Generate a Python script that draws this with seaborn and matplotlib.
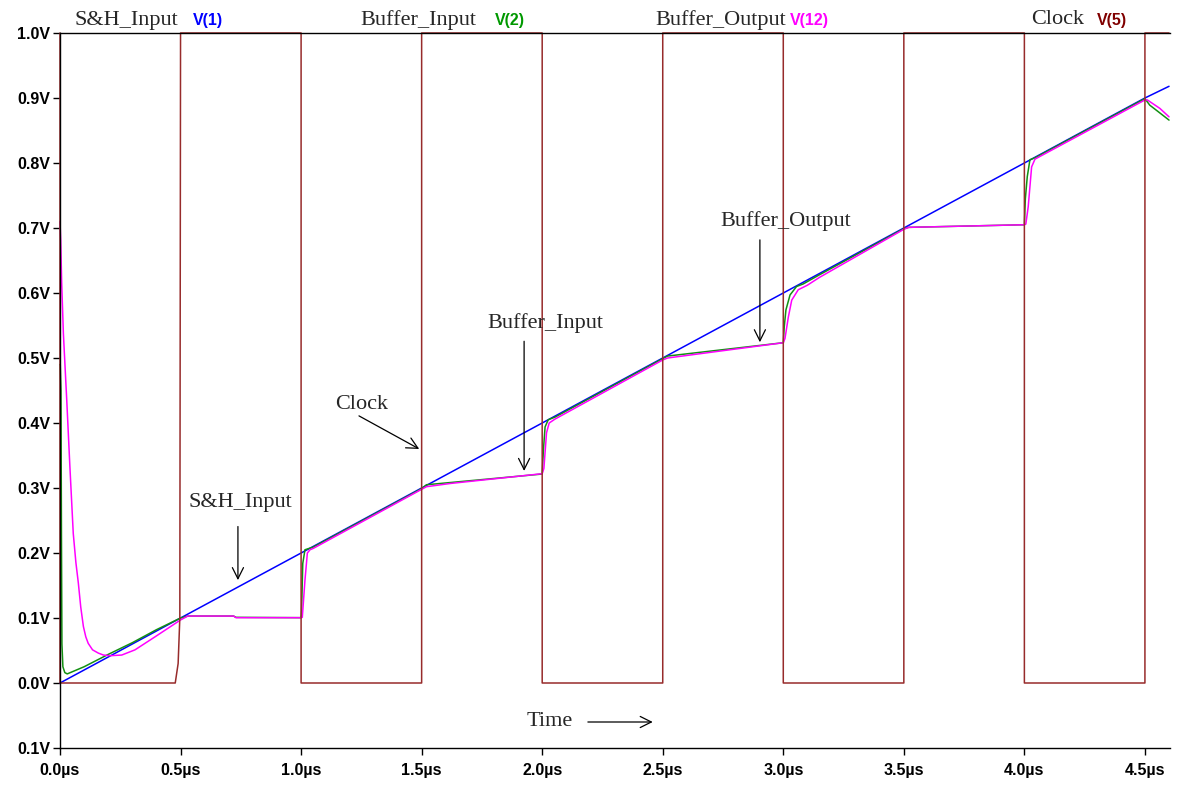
import pandas as pd
import seaborn as sns
import matplotlib.pyplot as plt

# ---- traces (time in us, volts) ----
sh_t = [0.0, 0.5, 1.0, 1.5, 2.0, 2.5, 3.0, 3.5, 4.0, 4.5, 4.6]
sh_v = [0.0, 0.1, 0.2, 0.3, 0.4, 0.5, 0.6, 0.7, 0.8, 0.9, 0.918]

buf_in_t = [0.0, 0.001, 0.004, 0.006, 0.008, 0.012, 0.02, 0.03, 0.1, 0.2, 0.3, 0.4, 0.5,
            0.53, 0.72, 0.73, 1.0, 1.002, 1.007, 1.016, 1.05, 1.5,
            1.52, 2.0, 2.005, 2.012, 2.025, 2.053, 2.5,
            2.52, 3.0, 3.004, 3.011, 3.028, 3.055, 3.083, 3.15, 3.5,
            3.52, 4.0, 4.004, 4.012, 4.023, 4.044, 4.5, 4.52, 4.555, 4.6]
buf_in_v = [0.49, 0.49, 0.45, 0.23, 0.06, 0.025, 0.016, 0.014, 0.025, 0.044, 0.062, 0.082, 0.1,
            0.103, 0.103, 0.101, 0.1005, 0.112, 0.184, 0.205, 0.209, 0.299,
            0.305, 0.3215, 0.358, 0.394, 0.405, 0.409, 0.499,
            0.503, 0.5235, 0.548, 0.574, 0.597, 0.61, 0.614, 0.628, 0.699,
            0.701, 0.705, 0.745, 0.779, 0.805, 0.808, 0.899, 0.889, 0.879, 0.866]

buf_out_t = [0.0, 0.003, 0.007, 0.014, 0.028, 0.041, 0.055, 0.066, 0.076, 0.086, 0.097,
             0.107, 0.117, 0.135, 0.159, 0.18,
             0.207, 0.256, 0.311, 0.394, 0.5, 0.53, 0.72, 0.73, 1.0,
             1.005, 1.016, 1.026, 1.037, 1.05, 1.5,
             1.52, 1.62, 2.0, 2.007, 2.018, 2.029, 2.053, 2.5,
             2.52, 3.0, 3.007, 3.021, 3.035, 3.062, 3.1, 3.15, 3.5,
             3.52, 4.0, 4.006, 4.016, 4.03, 4.044, 4.5, 4.51, 4.562, 4.6]
buf_out_v = [0.71, 0.68, 0.615, 0.538, 0.435, 0.333, 0.23, 0.185, 0.154, 0.117, 0.087,
             0.071, 0.061, 0.051, 0.046, 0.043,
             0.042, 0.043, 0.051, 0.071, 0.097, 0.103, 0.103, 0.1005, 0.1005,
             0.101, 0.158, 0.2, 0.205, 0.207, 0.298,
             0.302, 0.307, 0.322, 0.33, 0.385, 0.4, 0.406, 0.497,
             0.5, 0.5235, 0.53, 0.563, 0.589, 0.605, 0.612, 0.624, 0.698,
             0.701, 0.705, 0.706, 0.733, 0.794, 0.806, 0.897, 0.897, 0.884, 0.871]

clock_t = [0.0, 0.0, 0.478, 0.49, 0.497, 0.5, 1.0, 1.0, 1.5, 1.5, 2.0, 2.0, 2.5, 2.5,
           3.0, 3.0, 3.5, 3.5, 4.0, 4.0, 4.5, 4.5, 4.6]
clock_v = [1.0, 0.0, 0.0, 0.03, 0.1, 1.0, 1.0, 0.0, 0.0, 1.0, 1.0, 0.0, 0.0, 1.0,
           1.0, 0.0, 0.0, 1.0, 1.0, 0.0, 0.0, 1.0, 1.0]

trace_names = ['V(1)', 'V(2)', 'V(12)', 'V(5)']
trace_colors = ['#0000ff', '#139013', '#ff00ff', '#972b2b']
label_colors = ['#0000ff', '#009900', '#ff00ff', '#800000']
header_names = ['S&H_Input', 'Buffer_Input', 'Buffer_Output', 'Clock']

x_ticks = [0.0, 0.5, 1.0, 1.5, 2.0, 2.5, 3.0, 3.5, 4.0, 4.5]
x_labels = ['0.0µs', '0.5µs', '1.0µs', '1.5µs', '2.0µs', '2.5µs', '3.0µs', '3.5µs', '4.0µs', '4.5µs']
y_ticks = [1.0, 0.9, 0.8, 0.7, 0.6, 0.5, 0.4, 0.3, 0.2, 0.1, 0.0, -0.1]
y_labels = ['1.0V', '0.9V', '0.8V', '0.7V', '0.6V', '0.5V', '0.4V', '0.3V', '0.2V', '0.1V', '0.0V', '0.1V']

frames = []
for name, t, v in zip(trace_names, [sh_t, buf_in_t, buf_out_t, clock_t],
                      [sh_v, buf_in_v, buf_out_v, clock_v]):
    frames.append(pd.DataFrame({'t': t, 'v': v, 'trace': name}))
df = pd.concat(frames, ignore_index=True)

sns.set_style('ticks')
plt.rcParams['font.family'] = ['Liberation Sans', 'DejaVu Sans']
serif = ['Liberation Serif', 'DejaVu Serif']

fig = plt.figure(figsize=(11.79, 7.85), dpi=100)
ax = fig.add_axes([60 / 1179, 1 - 748 / 785, 1110 / 1179, 715 / 785])

sns.lineplot(data=df, x='t', y='v', hue='trace', hue_order=trace_names,
             palette=dict(zip(trace_names, trace_colors)), estimator=None,
             sort=False, legend=False, linewidth=1.1, ax=ax)
for line in ax.lines:
    line.set_clip_on(False)

ax.set_xlim(0, 4.604)
ax.set_ylim(-0.1, 1.0)
ax.set_xticks(x_ticks)
ax.set_xticklabels(x_labels, fontweight='bold', fontsize=11.5)
ax.set_yticks(y_ticks)
ax.set_yticklabels(y_labels, fontweight='bold', fontsize=11.5)
ax.tick_params(direction='out', length=5, width=1, pad=2, colors='black')
ax.tick_params(axis='x', pad=6)
ax.set_xlabel('')
ax.set_ylabel('')
ax.spines['right'].set_visible(False)
for s in ['left', 'bottom', 'top']:
    ax.spines[s].set_color('black')
    ax.spines[s].set_linewidth(1)

# trace headers above the plot
header_x = [0.062, 1.244, 2.468, 4.03]
label_x = [0.552, 1.804, 3.028, 4.30]
for name, hx, lx, tr, col in zip(header_names, header_x, label_x, trace_names, label_colors):
    ax.text(hx, 1.02, name, family=serif, fontsize=16, va='center', clip_on=False)
    ax.text(lx, 1.019, tr, color=col, fontweight='bold', fontsize=11.5, va='center', clip_on=False)

# annotations with arrows
arrow = dict(arrowstyle='->', color='black', lw=0.9, mutation_scale=20)
ax.text(0.531, 0.277, 'S&H_Input', family=serif, fontsize=16, va='center')
ax.annotate('', xy=(0.738, 0.154), xytext=(0.738, 0.245), arrowprops=arrow)
ax.text(1.14, 0.429, 'Clock', family=serif, fontsize=16, va='center')
ax.annotate('', xy=(1.5, 0.358), xytext=(1.23, 0.413), arrowprops=arrow)
ax.text(1.771, 0.554, 'Buffer_Input', family=serif, fontsize=16, va='center')
ax.annotate('', xy=(1.925, 0.322), xytext=(1.925, 0.53), arrowprops=arrow)
ax.text(2.737, 0.711, 'Buffer_Output', family=serif, fontsize=16, va='center')
ax.annotate('', xy=(2.903, 0.52), xytext=(2.903, 0.686), arrowprops=arrow)
ax.text(1.937, -0.06, 'Time', family=serif, fontsize=16, va='center')
ax.annotate('', xy=(2.47, -0.06), xytext=(2.178, -0.06), arrowprops=arrow)

fig.savefig('out.png', dpi=100)
